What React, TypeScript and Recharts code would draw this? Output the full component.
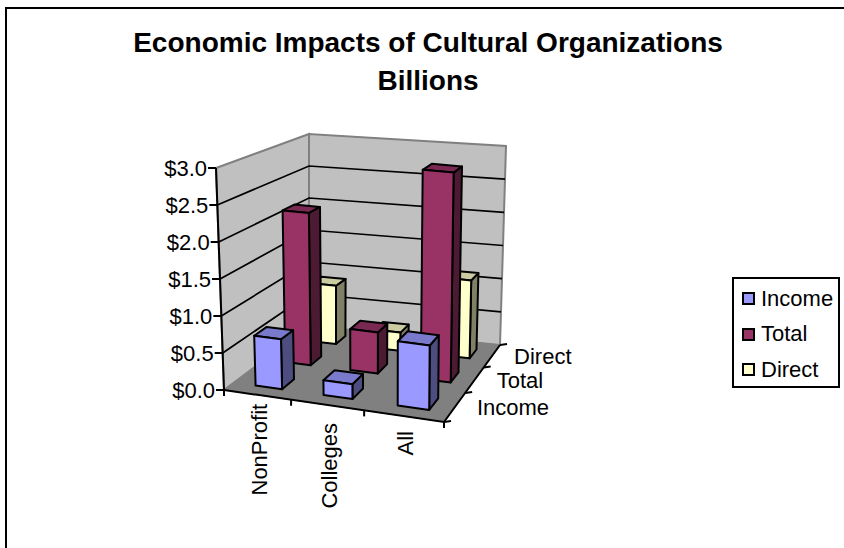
import React from 'react';
import { BarChart, Bar, XAxis, YAxis, Legend } from 'recharts';

const categories = ['NonProfit', 'Colleges', 'All'];
const income = [0.68, 0.2, 0.86];
const total = [2.17, 0.58, 2.93];
const direct = [0.87, 0.27, 1.14];
const yTicks = [0, 0.5, 1, 1.5, 2, 2.5, 3];

// back row first, so the front row paints over it
const seriesNames = ['Direct', 'Total', 'Income'];
const seriesColors = {
    Income: { front: '#9999FF', top: '#7A7ACC', side: '#4D4D80' },
    Total: { front: '#993366', top: '#7A2952', side: '#4D1A33' },
    Direct: { front: '#FFFFCC', top: '#CCCCA3', side: '#808066' },
};
const legendOrder = ['Income', 'Total', 'Direct'];
const depthRows = ['Income', 'Total', 'Direct'];

const data = categories.map((name, i) => ({
    name,
    Income: income[i],
    Total: total[i],
    Direct: direct[i],
}));

const WIDTH = 844;
const HEIGHT = 548;
const FONT = '"Liberation Sans", Arial, sans-serif';
const FS = 22;

// plot rectangle, the library's scales run over this
const LEFT = 224;
const RIGHT = 444;
const TOP = 168;
const BOTTOM = 390;
const PLOT_W = RIGHT - LEFT;
const PLOT_H = BOTTOM - TOP;
const BAR_SIZE = (PLOT_W / categories.length) * 0.4;
const BAR_SHIFT = 0.012; // bars sit a touch right of the band centre in the 3D view

// floor corners of the 3D box, and how far "up" goes at each of them
const A = [224, 390];
const B = [444, 422];
const C = [500, 345];
const D = [309, 326];
const upA = [-8, -222];
const upB = [2, -228];
const upC = [6, -199];
const upD = [0, -192];

const sx = A[0] - B[0] + C[0] - D[0];
const sy = A[1] - B[1] + C[1] - D[1];
const dx1 = B[0] - C[0];
const dx2 = D[0] - C[0];
const dy1 = B[1] - C[1];
const dy2 = D[1] - C[1];
const det = dx1 * dy2 - dx2 * dy1;
const g = (sx * dy2 - dx2 * sy) / det;
const h = (dx1 * sy - sx * dy1) / det;

function project(u: number, v: number, w: number) {
    const q = g * u + h * v + 1;
    const fx = ((B[0] - A[0] + g * B[0]) * u + (D[0] - A[0] + h * D[0]) * v + A[0]) / q;
    const fy = ((B[1] - A[1] + g * B[1]) * u + (D[1] - A[1] + h * D[1]) * v + A[1]) / q;
    const mix = (i: number) =>
        (1 - u) * (1 - v) * upA[i] + u * (1 - v) * upB[i] + u * v * upC[i] + (1 - u) * v * upD[i];
    return [fx + mix(0) * w, fy + mix(1) * w];
}

const pts = (list: number[][]) => list.map((p) => `${p[0].toFixed(1)},${p[1].toFixed(1)}`).join(' ');

function Box3D(props: any) {
    const { x, width, height, row, colors } = props;
    const u0 = (x - LEFT) / PLOT_W + BAR_SHIFT;
    const u1 = (x + width - LEFT) / PLOT_W + BAR_SHIFT;
    const span = 1 / seriesNames.length;
    const v0 = (row + 0.3) * span;
    const v1 = (row + 0.7) * span;
    const w = height / PLOT_H;
    const common = { stroke: '#000', strokeWidth: 2, strokeLinejoin: 'round' as const };
    return (
        <g>
            <polygon
                points={pts([project(u1, v0, 0), project(u1, v1, 0), project(u1, v1, w), project(u1, v0, w)])}
                fill={colors.side}
                {...common}
            />
            <polygon
                points={pts([project(u0, v0, w), project(u1, v0, w), project(u1, v1, w), project(u0, v1, w)])}
                fill={colors.top}
                {...common}
            />
            <polygon
                points={pts([project(u0, v0, 0), project(u1, v0, 0), project(u1, v0, w), project(u0, v0, w)])}
                fill={colors.front}
                {...common}
            />
        </g>
    );
}

function Walls() {
    const n = categories.length;
    const rows = depthRows.length;
    return (
        <g>
            <rect x={6} y={8} width={1000} height={1000} fill="none" stroke="#000" strokeWidth={2} />
            <text x={428} y={52} textAnchor="middle" fontFamily={FONT} fontSize={28} fontWeight="bold">
                Economic Impacts of Cultural Organizations
            </text>
            <text x={428} y={90} textAnchor="middle" fontFamily={FONT} fontSize={28} fontWeight="bold">
                Billions
            </text>

            <polygon
                points={pts([project(0, 0, 0), project(0, 1, 0), project(0, 1, 1), project(0, 0, 1)])}
                fill="#C0C0C0"
                stroke="#808080"
                strokeWidth={2}
            />
            <polygon
                points={pts([project(0, 1, 0), project(1, 1, 0), project(1, 1, 1), project(0, 1, 1)])}
                fill="#C0C0C0"
                stroke="#808080"
                strokeWidth={2}
            />
            <polygon points={pts([A, B, C, D])} fill="#808080" stroke="#808080" />

            {yTicks.slice(1, -1).map((t) => {
                const w = t / yTicks[yTicks.length - 1];
                return (
                    <polyline
                        key={t}
                        points={pts([project(0, 0, w), project(0, 1, w), project(1, 1, w)])}
                        fill="none"
                        stroke="#000"
                        strokeWidth={1.7}
                    />
                );
            })}

            <line x1={A[0] + upA[0]} y1={A[1] + upA[1]} x2={A[0]} y2={A[1]} stroke="#000" strokeWidth={2} />
            <polyline points={pts([A, B, C])} fill="none" stroke="#000" strokeWidth={2} />

            {Array.from({ length: n + 1 }, (_, i) => {
                const p = project(i / n, 0, 0);
                return <line key={i} x1={p[0]} y1={p[1]} x2={p[0]} y2={p[1] + 6} stroke="#000" strokeWidth={2} />;
            })}
            {Array.from({ length: rows + 1 }, (_, i) => {
                const p = project(1, i / rows, 0);
                return <line key={i} x1={p[0]} y1={p[1]} x2={p[0] + 7} y2={p[1] - 1} stroke="#000" strokeWidth={2} />;
            })}
            {depthRows.map((name, i) => {
                const p = project(1, (i + 0.5) / rows, 0);
                return (
                    <text key={name} x={p[0] + 22} y={p[1] + 8} fontFamily={FONT} fontSize={FS} fill="#000">
                        {name}
                    </text>
                );
            })}
        </g>
    );
}

function YTick({ y, payload }: any) {
    const w = (BOTTOM - y) / PLOT_H;
    const p = project(0, 0, w);
    return (
        <g>
            <line x1={p[0] - 8} y1={p[1]} x2={p[0]} y2={p[1]} stroke="#000" strokeWidth={2} />
            <text x={p[0] - 9} y={p[1] + 8} textAnchor="end" fontFamily={FONT} fontSize={FS} fill="#000">
                {`$${Number(payload.value).toFixed(1)}`}
            </text>
        </g>
    );
}

const labelNudge: Record<string, number> = { NonProfit: -3, Colleges: 6, All: 3 };

function XTick({ x, payload }: any) {
    const p = project((x - LEFT) / PLOT_W, 0, 0);
    const tx = p[0] + 10;
    const ty = p[1] + 12 + labelNudge[payload.value];
    return (
        <text
            x={tx}
            y={ty}
            textAnchor="end"
            transform={`rotate(-90 ${tx} ${ty})`}
            fontFamily={FONT}
            fontSize={FS}
            fill="#000"
        >
            {payload.value}
        </text>
    );
}

function LegendBox() {
    return (
        <div style={{ width: 108, height: 111, boxSizing: 'border-box', border: '2px solid #000', background: '#fff', fontFamily: FONT, fontSize: FS }}>
            {legendOrder.map((name) => (
                <div key={name} style={{ display: 'flex', alignItems: 'center', height: 35.5, paddingLeft: 8, marginTop: name === 'Income' ? 2 : 0 }}>
                    <span
                        style={{
                            width: 13,
                            height: 13,
                            boxSizing: 'border-box',
                            border: '2px solid #000',
                            background: seriesColors[name as keyof typeof seriesColors].front,
                            marginRight: 6,
                        }}
                    />
                    {name}
                </div>
            ))}
        </div>
    );
}

export default function App() {
    return (
        <div style={{ position: 'absolute', left: 0, top: 0, width: WIDTH, height: HEIGHT, background: '#fff' }}>
            <BarChart
                width={WIDTH}
                height={HEIGHT}
                data={data}
                barSize={BAR_SIZE}
                barGap={-BAR_SIZE}
                margin={{ left: LEFT - 60, right: WIDTH - RIGHT, top: TOP, bottom: HEIGHT - BOTTOM - 30 }}
            >
                <Walls />
                <XAxis dataKey="name" height={30} axisLine={false} tickLine={false} interval={0} tick={<XTick />} />
                <YAxis width={60} domain={[0, 3]} ticks={yTicks} axisLine={false} tickLine={false} tick={<YTick />} />
                <Legend
                    layout="horizontal"
                    verticalAlign="middle"
                    content={<LegendBox />}
                    wrapperStyle={{ position: 'absolute', left: 732, top: 277, width: 108, height: 111 }}
                />
                {seriesNames.map((name, i) => (
                    <Bar
                        key={name}
                        dataKey={name}
                        isAnimationActive={false}
                        shape={(props: any) => (
                            <Box3D
                                {...props}
                                row={seriesNames.length - 1 - i}
                                colors={seriesColors[name as keyof typeof seriesColors]}
                            />
                        )}
                    />
                ))}
            </BarChart>
        </div>
    );
}
